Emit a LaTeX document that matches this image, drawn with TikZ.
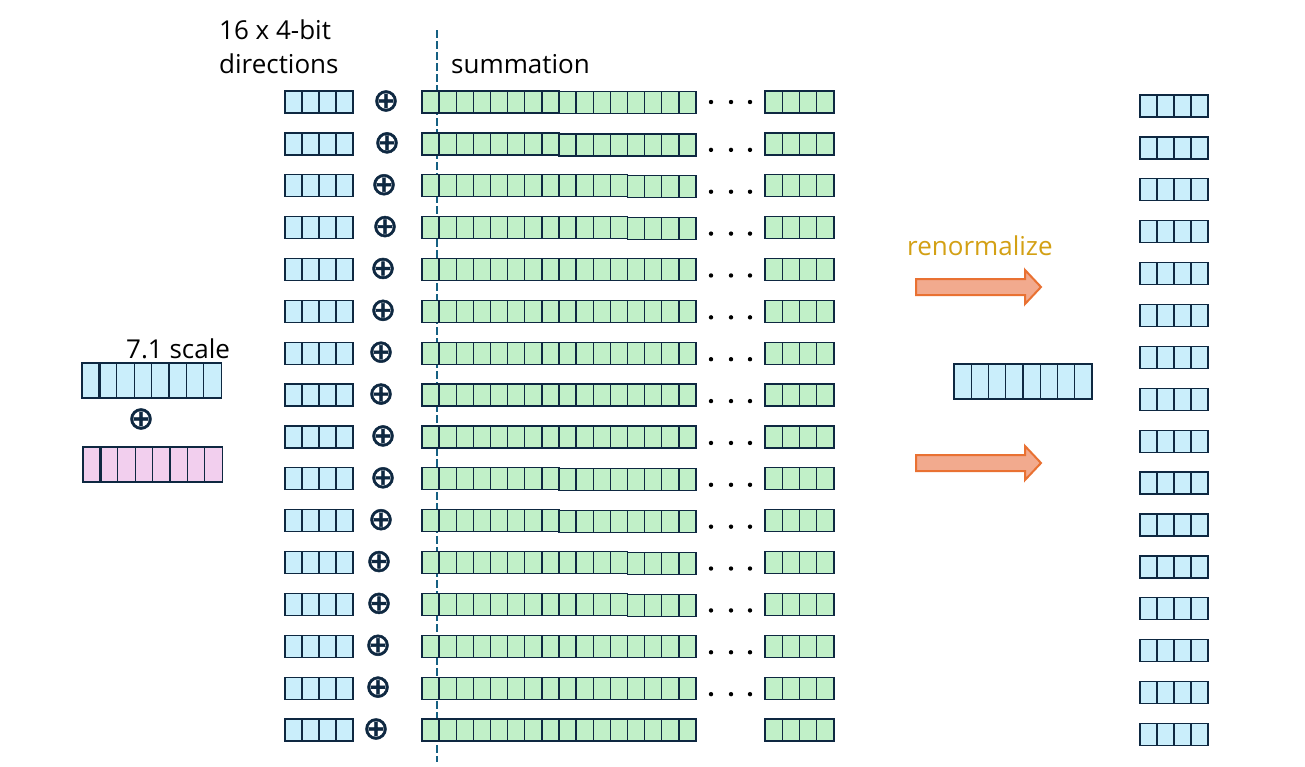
\documentclass[tikz,border=0pt]{standalone}
\usepackage{fontspec}
\setmainfont{Open Sans}
\newfontfamily\symfont[FakeBold=1.6]{DejaVu Sans}
\definecolor{cline}{HTML}{0E2841}
\definecolor{bluefill}{HTML}{CAEEFB}
\definecolor{greenfill}{HTML}{C1F0C8}
\definecolor{pinkfill}{HTML}{F2CFEE}
\definecolor{dashcol}{HTML}{156082}
\definecolor{arrowfill}{HTML}{F2AA8E}
\definecolor{arrowline}{HTML}{E97132}
\definecolor{gold}{HTML}{D3A014}
\newcommand{\cellrow}[6]{% x0, yc, n, w, h, fill
  \draw[cellline,fill=#6] (#1,{#2-#5/2}) rectangle ({#1+#3*#4},{#2+#5/2});%
  \pgfmathtruncatemacro{\cellnm}{#3-1}%
  \foreach \cellk in {1,...,\cellnm}{\draw[cellline] ({#1+\cellk*#4},{#2-#5/2}) -- ({#1+\cellk*#4},{#2+#5/2});}%
}
\newcommand{\blockarrow}[1]{% yc
  \draw[blockarr] (916,{#1-8}) -- (1025,{#1-8}) -- (1025,{#1-17}) -- (1041,#1) -- (1025,{#1+17}) -- (1025,{#1+8}) -- (916,{#1+8}) -- cycle;%
}
\begin{document}
\begin{tikzpicture}[x=1pt,y=-1pt,
  cellline/.style={draw=cline,line width=1.3pt},
  thickline/.style={draw=cline,line width=2.2pt},
  lbl/.style={font=\fontsize{26}{30}\selectfont,inner sep=0pt,anchor=base west,text=black},
  opl/.style={font=\symfont\fontsize{32}{34}\selectfont,text=cline,inner sep=0pt},
  blockarr/.style={fill=arrowfill,draw=arrowline,line width=2pt,line join=miter},
  dotstyle/.style={fill=black}]
\useasboundingbox (0,0) rectangle (1305,766);

% labels
\node[lbl] (t16) at (219,39) {16 x 4-bit};
\node[lbl] (tdir) at (219,73) {directions};
\node[lbl] (tsum) at (451,73) {summation};
\node[lbl] (tscale) at (126,358) {7.1 scale};
\node[lbl,text=gold] (tren) at (907,255) {renormalize};

% dashed separator
\draw[dashcol,line width=2.2pt,dash pattern=on 8pt off 3pt] (437,30) -- (437,762);

% left rows
\foreach \i/\ox/\k/\dy in {1/386/8/0.8,2/387/8/1,3/384/12/1,4/385/12/1,5/383/8/0,6/383/8/0,7/381/8/0,8/381/8/0,9/383/8/0,10/383/8/1,11/381/8/1,12/379/12/1,13/379/12/1,14/378/8/0,15/378/8/0,16/376/8/0}{
  \pgfmathsetmacro{\yc}{102+(\i-1)*41.867}
  \pgfmathsetmacro{\ycr}{\yc+\dy}
  \pgfmathsetmacro{\xr}{422+\k*17.125}
  \pgfmathtruncatemacro{\nr}{16-\k}
  % blue 4-bit
  \cellrow{285}{\yc}{4}{17}{22}{bluefill}
  \draw[thickline] (302,{\yc-11}) -- (302,{\yc+11});
  % oplus
  \node[opl] (op\i) at (\ox,{\yc-1}) {⊕};
  % green summation row
  \cellrow{\xr}{\ycr}{\nr}{17.125}{22}{greenfill}
  \cellrow{422}{\yc}{\k}{17.125}{22}{greenfill}
  \draw[thickline] (422,{\yc-11}) -- (422,{\yc+11});
  % right green block
  \cellrow{765}{\yc}{4}{17.25}{22}{greenfill}
  % right output column
  \pgfmathsetmacro{\yo}{106+(\i-1)*41.9}
  \cellrow{1140}{\yo}{4}{17}{22}{bluefill}
  \draw[thickline] (1157,{\yo-11}) -- (1157,{\yo+11});
}
% ellipsis dots
\foreach \i in {1,...,15}{
  \pgfmathsetmacro{\yd}{102+(\i-1)*41.867+(\i>1)*6}
  \foreach \xd in {711,731,750}{\fill[dotstyle] (\xd,\yd) circle (2.2);}
}

% left scale boxes
\cellrow{82}{380.5}{8}{17.4}{35}{bluefill}
\draw[thickline] (99.4,363) -- (99.4,398);
\node[opl] (opscale) at (141,419) {⊕};
\cellrow{83}{464.5}{8}{17.4}{35}{pinkfill}
\draw[thickline] (100.4,447) -- (100.4,482);

% middle box
\cellrow{954}{381.5}{8}{17.25}{35}{bluefill}

% arrows
\blockarrow{287}
\blockarrow{463}
\end{tikzpicture}
\end{document}
